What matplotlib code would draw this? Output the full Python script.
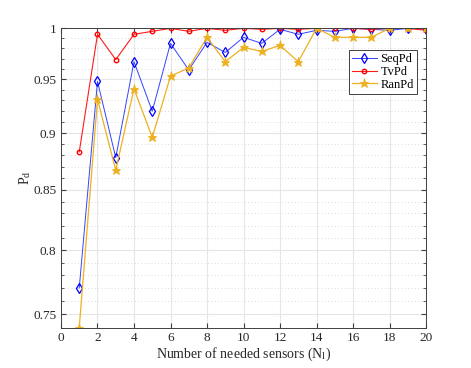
import numpy as np
import matplotlib
matplotlib.use("Agg")
import matplotlib.pyplot as plt
from matplotlib.ticker import FixedLocator, NullFormatter

plt.rcParams['font.family'] = ['Liberation Serif', 'DejaVu Serif']
plt.rcParams['mathtext.fontset'] = 'stix'

# data
n_sensors = np.arange(1, 21)
seq_pd = [0.770, 0.948, 0.878, 0.967, 0.920, 0.985, 0.959, 0.986, 0.976, 0.991,
          0.985, 0.999, 0.994, 0.998, 0.997, 1.000, 0.999, 0.998, 1.000, 0.999]
tv_pd = [0.883, 0.994, 0.969, 0.994, 0.997, 1.000, 0.997, 1.000, 0.998, 1.000,
         0.999, 1.000, 0.999, 1.000, 1.000, 1.000, 0.999, 1.000, 1.000, 0.998]
ran_pd = [0.740, 0.931, 0.867, 0.941, 0.896, 0.953, 0.961, 0.991, 0.967, 0.981,
          0.977, 0.983, 0.967, 1.000, 0.991, 0.991, 0.991, 1.000, 1.000, 1.000]

y_ticks = [0.75, 0.8, 0.85, 0.9, 0.95, 1.0]
y_ticklabels = ['0.75', '0.8', '0.85', '0.9', '0.95', '1']
x_ticks = np.arange(0, 21, 2)

fig = plt.figure(figsize=(4.71, 3.68), dpi=100)
ax = fig.add_axes([0.1295, 0.110, 0.775, 0.813])

ax.plot(n_sensors, seq_pd, color='#3344ff', lw=0.7, marker='d', ms=5,
        mfc='none', mec='#0000ff', mew=0.9, label='SeqPd')
ax.plot(n_sensors, tv_pd, color='#ff1a1a', lw=0.8, marker='o', ms=3.2,
        mfc='none', mec='#ff0000', mew=1.0, label='TvPd')
ax.plot(n_sensors, ran_pd, color='#edb120', lw=0.9, marker='*', ms=6.5,
        mew=0.6, label='RanPd')

ax.set_yscale('log')
ax.set_ylim(0.74, 1.0)
ax.set_xlim(0, 20)
ax.yaxis.set_major_locator(FixedLocator(y_ticks))
ax.set_yticklabels(y_ticklabels)
ax.yaxis.set_minor_locator(FixedLocator(np.round(np.arange(0.74, 1.0, 0.01), 2)))
ax.yaxis.set_minor_formatter(NullFormatter())
ax.set_xticks(x_ticks)

ax.grid(True, which='major', color='#e6e6e6', lw=0.8)
ax.grid(True, which='minor', axis='y', color='#d0d0d0', lw=0.6, ls=(0, (1, 3)))
ax.set_axisbelow(True)

for s in ax.spines.values():
    s.set_color('#404040')
    s.set_linewidth(0.7)
ax.tick_params(which='both', direction='in', top=True, right=True,
               colors='#404040', labelsize=9.5, labelcolor='#262626')
ax.tick_params(which='major', length=3.5)
ax.tick_params(which='minor', length=2)

ax.set_xlabel('Number of needed sensors (N$_\\mathregular{l}$)', fontsize=10,
              color='#262626', labelpad=1)
ax.set_ylabel('P$_\\mathregular{d}$', fontsize=10, color='#262626', labelpad=0)

leg = ax.legend(loc='upper right', bbox_to_anchor=(0.975, 0.927), fontsize=9,
                fancybox=False, framealpha=1, edgecolor='#404040',
                handlelength=2.0, borderpad=0.25, labelspacing=0.05,
                handletextpad=0.3, borderaxespad=0)
leg.get_frame().set_linewidth(0.7)

fig.savefig('out.png', dpi=100)
